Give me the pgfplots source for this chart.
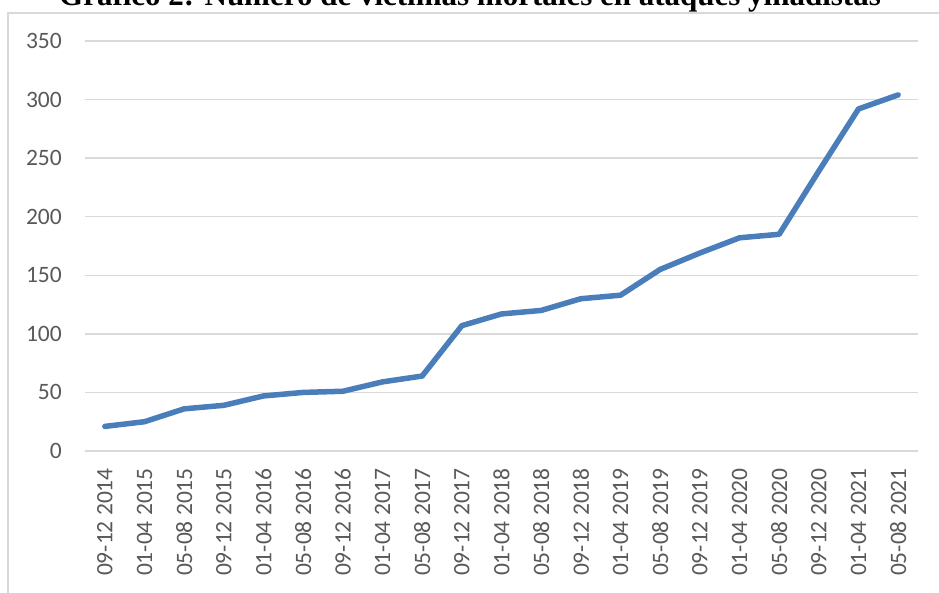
\documentclass[border=0pt]{standalone}
\usepackage{pgfplots}
\pgfplotsset{compat=1.18}
\usepackage{fontspec}
\setmainfont{Carlito}
\newfontfamily\titlefont{Liberation Serif}
\definecolor{lineblue}{RGB}{74,126,187}
\definecolor{gridgray}{RGB}{217,217,217}
\definecolor{labelgray}{RGB}{89,89,89}
\begin{document}
\begin{tikzpicture}[x=1pt,y=1pt]
\path[use as bounding box, clip] (0,0) rectangle (939,592);
\draw[gridgray, line width=1.5pt] (8,-50) -- (8,579) -- (1000,579);
\node[anchor=base, inner sep=0pt, font=\titlefont\bfseries\fontsize{31}{36}\selectfont] at (470,586) {Gráfico 2: Número de víctimas mortales en ataques yihadistas};
\begin{axis}[
  at={(85pt,141pt)}, anchor=south west,
  scale only axis, width=833pt, height=410pt,
  xmin=-0.5, xmax=20.5, ymin=0, ymax=350,
  ytick={0,50,...,350},
  xtick={0,...,20},
  xticklabels={09-12 2014,01-04 2015,05-08 2015,09-12 2015,01-04 2016,05-08 2016,09-12 2016,01-04 2017,05-08 2017,09-12 2017,01-04 2018,05-08 2018,09-12 2018,01-04 2019,05-08 2019,09-12 2019,01-04 2020,05-08 2020,09-12 2020,01-04 2021,05-08 2021},
  axis line style={draw=none},
  major tick length=0pt,
  ymajorgrids,
  major grid style={gridgray, line width=1.5pt},
  tick label style={font=\fontsize{23.5}{27}\selectfont, text=labelgray, inner sep=0pt},
  /pgf/number format/assume math mode=true,
  yticklabel shift=23pt,
  xticklabel shift=17pt,
  xticklabel style={rotate=90, anchor=east},
  yticklabel style={anchor=east},
  clip=false,
]
\addplot[lineblue, line width=5.5pt, line join=round, line cap=round, mark=none] coordinates {
(0,21) (1,25) (2,36) (3,39) (4,47) (5,50) (6,51) (7,59) (8,64) (9,107)
(10,117) (11,120) (12,130) (13,133) (14,155) (15,169) (16,182) (17,185)
(18,239) (19,292) (20,304)
};
\end{axis}
\end{tikzpicture}
\end{document}
